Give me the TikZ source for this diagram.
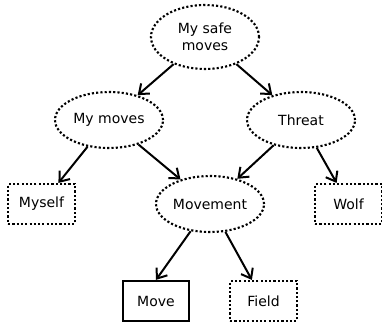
\documentclass[tikz,border=0pt]{standalone}
\usepackage{fontspec}
\setmainfont{DejaVu Sans}
\usetikzlibrary{shapes.geometric, arrows.meta}

\begin{document}
\begin{tikzpicture}[x=0.75pt,y=-0.75pt,>={Straight Barb[length=6.5pt,width=10pt]},
  every node/.style={font=\fontsize{10.5}{12.5}\selectfont},
  goal/.style={ellipse,draw,line width=1.6pt,dash pattern=on 1.6pt off 1.6pt,
    minimum width=81pt,minimum height=42pt,inner sep=0pt,align=center},
  leaf/.style={rectangle,draw,line width=1.6pt,dash pattern=on 1.6pt off 1.6pt,
    minimum width=50pt,minimum height=30pt,inner sep=0pt},
  link/.style={->,line width=1.5pt}]
\useasboundingbox (0,0) rectangle (382,322);
% goals
\node[goal,minimum height=48pt] (safe) at (205,37) {My safe\\moves};
\node[goal] (mymoves) at (109,120) {My moves};
\node[goal] (threat) at (301,120) {Threat};
\node[goal] (movement) at (210,204) {Movement};
% leaves
\node[leaf] (myself) at (41.5,204) {Myself};
\node[leaf] (wolf) at (348.5,204) {Wolf};
\node[leaf,solid,line width=1.7pt] (move) at (156,301) {Move};
\node[leaf] (field) at (263.5,301) {Field};
% links
\draw[link] (safe) -- (mymoves);
\draw[link] (safe) -- (threat);
\draw[link] (mymoves) -- (myself);
\draw[link] (mymoves) -- (movement);
\draw[link] (threat) -- (movement);
\draw[link] (threat) -- (wolf);
\draw[link] (movement) -- (move.north);
\draw[link] (movement) -- (field);
\end{tikzpicture}
\end{document}
